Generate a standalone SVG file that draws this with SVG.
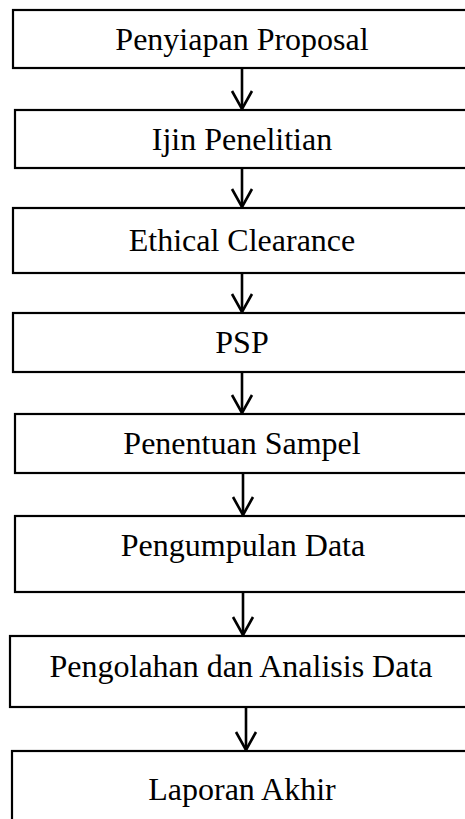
<svg xmlns="http://www.w3.org/2000/svg" width="465" height="819" viewBox="0 0 465 819">
<style>
  .box { fill: #ffffff; stroke: #000000; stroke-width: 2.2; }
  .lbl { font-family: 'Liberation Serif', 'Times New Roman', Times, serif; font-size: 32px; fill: #000000; text-anchor: middle; }
  .conn { stroke: #000000; stroke-width: 2.6; fill: none; marker-end: url(#arr); }
</style>
<defs>
  <marker id="arr" markerUnits="userSpaceOnUse" viewBox="0 0 22 24" markerWidth="22" markerHeight="24" refX="20" refY="12" orient="auto">
    <path d="M2,2 L20,12 L2,22" fill="none" stroke="#000000" stroke-width="2.6" stroke-linejoin="miter"/>
  </marker>
</defs>
<rect x="0" y="0" width="465" height="819" fill="#ffffff"/>
<g id="n1"><rect class="box" x="13" y="10" width="465" height="58"/><text class="lbl" x="242" y="50">Penyiapan Proposal</text></g>
<g id="n2"><rect class="box" x="15" y="110" width="465" height="58"/><text class="lbl" x="242" y="150">Ijin Penelitian</text></g>
<g id="n3"><rect class="box" x="13" y="208" width="465" height="65"/><text class="lbl" x="242" y="251">Ethical Clearance</text></g>
<g id="n4"><rect class="box" x="13" y="313" width="465" height="59"/><text class="lbl" x="242" y="353">PSP</text></g>
<g id="n5"><rect class="box" x="15" y="414" width="465" height="59"/><text class="lbl" x="242" y="454">Penentuan Sampel</text></g>
<g id="n6"><rect class="box" x="15" y="516" width="465" height="76"/><text class="lbl" x="243" y="556">Pengumpulan Data</text></g>
<g id="n7"><rect class="box" x="10" y="636" width="465" height="71"/><text class="lbl" x="241" y="677">Pengolahan dan Analisis Data</text></g>
<g id="n8"><rect class="box" x="12" y="751" width="465" height="90"/><text class="lbl" x="242" y="800">Laporan Akhir</text></g>
<g id="connectors">
  <line class="conn" x1="242" y1="68" x2="242" y2="109"/>
  <line class="conn" x1="242" y1="168" x2="242" y2="207"/>
  <line class="conn" x1="242" y1="273" x2="242" y2="312"/>
  <line class="conn" x1="242" y1="372" x2="242" y2="413"/>
  <line class="conn" x1="243" y1="473" x2="243" y2="515"/>
  <line class="conn" x1="243" y1="592" x2="243" y2="635"/>
  <line class="conn" x1="246" y1="707" x2="246" y2="750"/>
</g>
</svg>
